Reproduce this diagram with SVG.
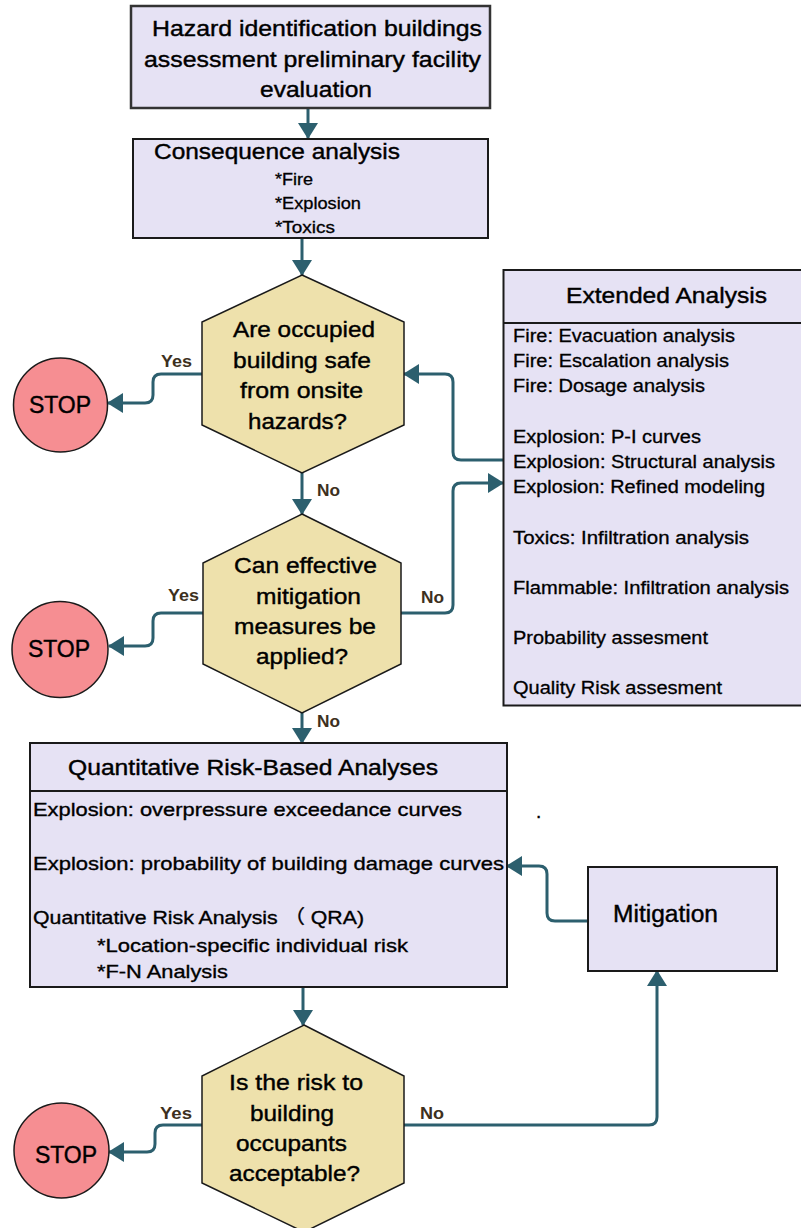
<svg xmlns="http://www.w3.org/2000/svg" width="801" height="1228" viewBox="0 0 801 1228">
<style>
  text { font-family: "Liberation Sans", Arial, "Noto Sans CJK SC", sans-serif; fill: #000; }
  .box { fill: #E6E2F4; stroke: #1a1a1a; stroke-width: 2; }
  .hex { fill: #EEE1AC; stroke: #1a1a1a; stroke-width: 1.5; }
  .stop { fill: #F68E92; stroke: #1a1a1a; stroke-width: 1.5; }
  .big { font-size: 22px; stroke: #000; stroke-width: 0.4; }
  .mid { font-size: 19px; stroke: #000; stroke-width: 0.35; }
  .lst { font-size: 17.5px; stroke: #000; stroke-width: 0.3; }
  .sm { font-size: 16px; stroke: #000; stroke-width: 0.3; }
  .stoptxt { font-size: 23px; text-anchor: middle; stroke: #000; stroke-width: 0.4; }
  .lbl { font-size: 16px; font-weight: bold; fill: #3D3020; }
  .conn { fill: none; stroke: #2C5F6E; stroke-width: 3; marker-end: url(#arr); }
</style>
<defs>
  <marker id="arr" markerUnits="userSpaceOnUse" markerWidth="16" markerHeight="20" refX="15" refY="10" orient="auto">
    <path d="M0,0 L16,10 L0,20 z" fill="#2C5F6E"/>
  </marker>
</defs>
<rect width="801" height="1228" fill="#fff"/>

<g id="connectors">
  <path class="conn" d="M308,108 V138"/>
  <path class="conn" d="M302,238 V275"/>
  <path class="conn" d="M202,374 H161 Q153,374 153,382 V395 Q153,403 145,403 H108"/>
  <path class="conn" d="M302,473 V514"/>
  <path class="conn" d="M203,613 H161 Q153,613 153,621 V638 Q153,646 145,646 H109"/>
  <path class="conn" d="M401,613 H445 Q453,613 453,605 V491 Q453,483 461,483 H503"/>
  <path class="conn" d="M503,460 H461 Q453,460 453,452 V382 Q453,374 445,374 H404"/>
  <path class="conn" d="M302,713 V743"/>
  <path class="conn" d="M303,987 V1025"/>
  <path class="conn" d="M202,1125 H163 Q155,1125 155,1133 V1144 Q155,1152 147,1152 H109"/>
  <path class="conn" d="M404,1125 H649 Q657,1125 657,1117 V971"/>
  <path class="conn" d="M588,921 H555 Q547,921 547,913 V874 Q547,866 539,866 H507"/>
</g>

<g id="hazard-id">
  <rect class="box" x="131" y="6" width="359" height="102" style="stroke:#333;stroke-width:2.5"/>
  <text class="big" x="152" y="36" textLength="330" lengthAdjust="spacingAndGlyphs">Hazard identification buildings</text>
  <text class="big" x="144" y="67" textLength="337" lengthAdjust="spacingAndGlyphs">assessment preliminary facility</text>
  <text class="big" x="260" y="97" textLength="112" lengthAdjust="spacingAndGlyphs">evaluation</text>
</g>

<g id="consequence">
  <rect class="box" x="133" y="139" width="355" height="99"/>
  <text class="big" x="154" y="159" textLength="246" lengthAdjust="spacingAndGlyphs">Consequence analysis</text>
  <text class="sm" x="275" y="185" textLength="38" lengthAdjust="spacingAndGlyphs">*Fire</text>
  <text class="sm" x="275" y="209" textLength="86" lengthAdjust="spacingAndGlyphs">*Explosion</text>
  <text class="sm" x="275" y="233" textLength="60" lengthAdjust="spacingAndGlyphs">*Toxics</text>
</g>

<g id="decision-safe">
  <polygon class="hex" points="302,275 404,322 404,425 302,473 202,425 202,322"/>
  <text class="big" x="233" y="337" textLength="142" lengthAdjust="spacingAndGlyphs">Are occupied</text>
  <text class="big" x="233" y="368" textLength="138" lengthAdjust="spacingAndGlyphs">building safe</text>
  <text class="big" x="240" y="398" textLength="123" lengthAdjust="spacingAndGlyphs">from onsite</text>
  <text class="big" x="248" y="429" textLength="99" lengthAdjust="spacingAndGlyphs">hazards?</text>
</g>

<g id="stop1">
  <circle class="stop" cx="60.5" cy="405" r="47"/>
  <text class="stoptxt" x="60" y="413">STOP</text>
</g>

<g id="decision-mitigation">
  <polygon class="hex" points="302,514 401,563 401,664 302,713 203,664 203,563"/>
  <text class="big" x="234" y="573" textLength="143" lengthAdjust="spacingAndGlyphs">Can effective</text>
  <text class="big" x="256" y="604" textLength="105" lengthAdjust="spacingAndGlyphs">mitigation</text>
  <text class="big" x="234" y="634" textLength="142" lengthAdjust="spacingAndGlyphs">measures be</text>
  <text class="big" x="256" y="664" textLength="92" lengthAdjust="spacingAndGlyphs">applied?</text>
</g>

<g id="stop2">
  <circle class="stop" cx="60" cy="649.5" r="48"/>
  <text class="stoptxt" x="59" y="657">STOP</text>
</g>

<g id="extended">
  <rect class="box" x="503.5" y="270" width="310" height="435.5"/>
  <line x1="503.5" y1="323" x2="801" y2="323" stroke="#1a1a1a" stroke-width="2"/>
  <text class="big" x="566" y="303" textLength="201" lengthAdjust="spacingAndGlyphs">Extended Analysis</text>
  <text class="lst" x="513" y="342" textLength="222" lengthAdjust="spacingAndGlyphs">Fire: Evacuation analysis</text>
  <text class="lst" x="513" y="367" textLength="216" lengthAdjust="spacingAndGlyphs">Fire: Escalation analysis</text>
  <text class="lst" x="513" y="392" textLength="192" lengthAdjust="spacingAndGlyphs">Fire: Dosage analysis</text>
  <text class="lst" x="513" y="443" textLength="188" lengthAdjust="spacingAndGlyphs">Explosion: P-I curves</text>
  <text class="lst" x="513" y="468" textLength="262" lengthAdjust="spacingAndGlyphs">Explosion: Structural analysis</text>
  <text class="lst" x="513" y="493" textLength="252" lengthAdjust="spacingAndGlyphs">Explosion: Refined modeling</text>
  <text class="lst" x="513" y="544" textLength="236" lengthAdjust="spacingAndGlyphs">Toxics: Infiltration analysis</text>
  <text class="lst" x="513" y="594" textLength="276" lengthAdjust="spacingAndGlyphs">Flammable: Infiltration analysis</text>
  <text class="lst" x="513" y="644" textLength="195" lengthAdjust="spacingAndGlyphs">Probability assesment</text>
  <text class="lst" x="513" y="694" textLength="209" lengthAdjust="spacingAndGlyphs">Quality Risk assesment</text>
</g>

<g id="qra">
  <rect class="box" x="30" y="743" width="477" height="244"/>
  <line x1="30" y1="791" x2="507" y2="791" stroke="#1a1a1a" stroke-width="2"/>
  <text class="big" x="68" y="775" textLength="370" lengthAdjust="spacingAndGlyphs">Quantitative Risk-Based Analyses</text>
  <text class="mid" x="33" y="816" textLength="429" lengthAdjust="spacingAndGlyphs">Explosion: overpressure exceedance curves</text>
  <text class="mid" x="33" y="870" textLength="471" lengthAdjust="spacingAndGlyphs">Explosion: probability of building damage curves</text>
  <text class="mid" x="33" y="924" textLength="331" lengthAdjust="spacingAndGlyphs">Quantitative Risk Analysis （ QRA)</text>
  <text class="mid" x="97" y="952" textLength="311" lengthAdjust="spacingAndGlyphs">*Location-specific individual risk</text>
  <text class="mid" x="97" y="978" textLength="131" lengthAdjust="spacingAndGlyphs">*F-N Analysis</text>
</g>
<text class="mid" x="536" y="818">.</text>

<g id="mitigation">
  <rect class="box" x="588" y="867" width="189" height="104"/>
  <text style="font-size:23px;stroke:#000;stroke-width:0.4" x="613" y="922" textLength="105" lengthAdjust="spacingAndGlyphs">Mitigation</text>
</g>

<g id="decision-risk">
  <polygon class="hex" points="304,1025 404,1076 404,1183 304,1232 202,1183 202,1076"/>
  <text class="big" x="229" y="1090" textLength="134" lengthAdjust="spacingAndGlyphs">Is the risk to</text>
  <text class="big" x="250" y="1121" textLength="84" lengthAdjust="spacingAndGlyphs">building</text>
  <text class="big" x="236" y="1151" textLength="111" lengthAdjust="spacingAndGlyphs">occupants</text>
  <text class="big" x="229" y="1181" textLength="131" lengthAdjust="spacingAndGlyphs">acceptable?</text>
</g>

<g id="stop3">
  <circle class="stop" cx="61.5" cy="1150.5" r="47.5"/>
  <text class="stoptxt" x="66" y="1163">STOP</text>
</g>

<g id="labels">
  <text class="lbl" x="161" y="367" textLength="31" lengthAdjust="spacingAndGlyphs">Yes</text>
  <text class="lbl" x="317" y="496" textLength="23" lengthAdjust="spacingAndGlyphs">No</text>
  <text class="lbl" x="168" y="601" textLength="31" lengthAdjust="spacingAndGlyphs">Yes</text>
  <text class="lbl" x="421" y="603" textLength="23" lengthAdjust="spacingAndGlyphs">No</text>
  <text class="lbl" x="317" y="727" textLength="23" lengthAdjust="spacingAndGlyphs">No</text>
  <text class="lbl" x="160" y="1119" textLength="32" lengthAdjust="spacingAndGlyphs">Yes</text>
  <text class="lbl" x="420" y="1119" textLength="24" lengthAdjust="spacingAndGlyphs">No</text>
</g>
</svg>
